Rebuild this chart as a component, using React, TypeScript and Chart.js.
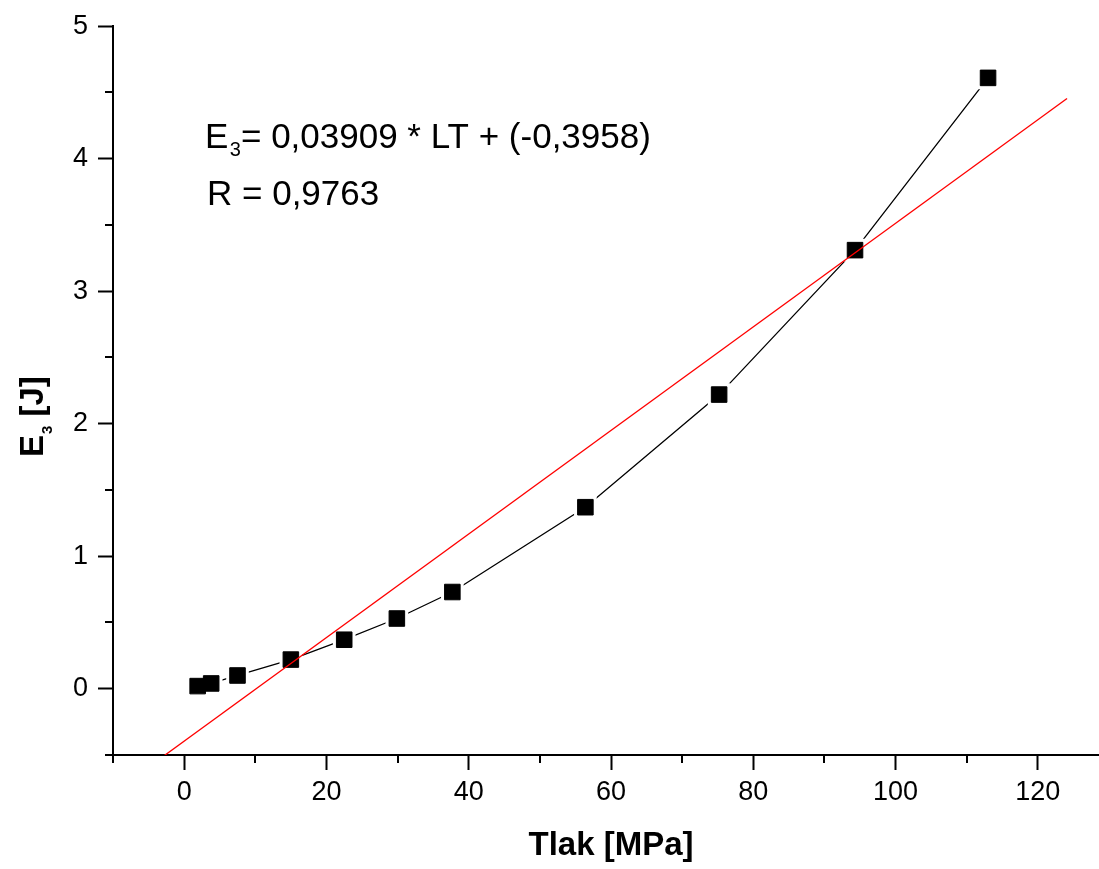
import React, { useEffect, useRef } from "react";
import { Chart, registerables } from "chart.js";

Chart.register(...registerables);

// ---- data ----
const pressure = [1.9, 3.8, 7.5, 15.0, 22.5, 29.9, 37.7, 56.4, 75.2, 94.3, 113.0];
const energy = [0.02, 0.04, 0.1, 0.22, 0.37, 0.53, 0.73, 1.37, 2.22, 3.31, 4.61];
const fitX = [-2.8, 124.1];
const fitY = [-0.505, 4.455];

const xMajorTicks = [0, 20, 40, 60, 80, 100, 120];
const xMinorTicks = [-10, 10, 30, 50, 70, 90, 110];
const yMajorTicks = [0, 1, 2, 3, 4, 5];
const yMinorTicks = [-0.5, 0.5, 1.5, 2.5, 3.5, 4.5];

const xTitle = "Tlak [MPa]";
const yTitleMain = "E";
const yTitleSub = "3";
const yTitleRest = " [J]";
const eqMain = "E";
const eqSub = "3";
const eqRest = "= 0,03909 * LT + (-0,3958)";
const rText = "R = 0,9763";

const FONT = "'Liberation Sans', Arial, sans-serif";

const decorPlugin = {
  id: "decor",
  afterDraw(chart: any) {
    const ctx = chart.ctx as CanvasRenderingContext2D;
    const xs = chart.scales.x;
    const ys = chart.scales.y;
    const { left, top, bottom } = chart.chartArea;
    ctx.save();
    // minor ticks
    ctx.strokeStyle = "#000";
    ctx.lineWidth = 2;
    ctx.beginPath();
    xMinorTicks.forEach((v) => {
      const px = Math.round(xs.getPixelForValue(v));
      ctx.moveTo(px, bottom);
      ctx.lineTo(px, bottom + 8);
    });
    yMinorTicks.forEach((v) => {
      const py = Math.round(ys.getPixelForValue(v));
      ctx.moveTo(left, py);
      ctx.lineTo(left - 8, py);
    });
    ctx.stroke();

    ctx.fillStyle = "#000";
    ctx.textAlign = "left";
    ctx.textBaseline = "alphabetic";

    // equation annotation
    const ax = left + 92;
    const ay = top + 122;
    ctx.font = `35px ${FONT}`;
    ctx.fillText(eqMain, ax, ay);
    const wE = ctx.measureText(eqMain).width;
    ctx.font = `20px ${FONT}`;
    ctx.fillText(eqSub, ax + wE + 1.5, ay + 8);
    const wS = ctx.measureText(eqSub).width;
    ctx.font = `35px ${FONT}`;
    ctx.fillText(eqRest, ax + wE + 1.5 + wS, ay);
    ctx.fillText(rText, ax + 2, ay + 57);

    // y axis title (rotated)
    ctx.translate(43, 457);
    ctx.rotate(-Math.PI / 2);
    ctx.font = `bold 33px ${FONT}`;
    ctx.fillText(yTitleMain, 0, 0);
    const wYE = ctx.measureText(yTitleMain).width;
    ctx.font = `bold 15px ${FONT}`;
    ctx.fillText(yTitleSub, wYE + 1, 9);
    const wYS = ctx.measureText(yTitleSub).width;
    ctx.font = `bold 33px ${FONT}`;
    ctx.fillText(yTitleRest, wYE + 1 + wYS, 0);
    ctx.restore();
  },
};

export default function App() {
  const canvasRef = useRef<HTMLCanvasElement | null>(null);

  useEffect(() => {
    if (!canvasRef.current) return;
    Chart.defaults.font.family = FONT;
    Chart.defaults.color = "#000";
    const lineData = pressure.map((x, i) => ({ x, y: energy[i] }));
    const fitData = fitX.map((x, i) => ({ x, y: fitY[i] }));
    const chart = new Chart(canvasRef.current, {
      type: "scatter",
      data: {
        datasets: [
          {
            label: "fit",
            data: fitData,
            showLine: true,
            borderColor: "#ff0000",
            borderWidth: 1.3,
            pointRadius: 0,
            order: 0,
          },
          {
            label: "E3",
            data: lineData,
            showLine: true,
            borderColor: "#000",
            borderWidth: 1.3,
            pointStyle: "rect",
            pointRadius: 16,
            pointBackgroundColor: "#fff",
            pointBorderWidth: 0,
            pointBorderColor: "#fff",
            order: 2,
          },
          {
            label: "markers",
            data: lineData,
            showLine: false,
            pointStyle: "rect",
            pointRadius: 11,
            pointBackgroundColor: "#000",
            pointBorderColor: "#000",
            pointBorderWidth: 1,
            order: 1,
          },
        ],
      },
      options: {
        animation: false,
        responsive: false,
        maintainAspectRatio: false,
        layout: { autoPadding: false, padding: { left: 0, top: 22, right: 7, bottom: 0 } },
        plugins: { legend: { display: false }, tooltip: { enabled: false } },
        scales: {
          x: {
            type: "linear",
            position: "bottom",
            min: -10,
            max: 130,
            afterBuildTicks: (s: any) => {
              s.ticks = xMajorTicks.map((v) => ({ value: v }));
            },
            afterFit: (s: any) => {
              s.height = 114;
            },
            border: { display: true, color: "#000", width: 2 },
            grid: {
              display: true,
              drawOnChartArea: false,
              drawTicks: true,
              tickLength: 15,
              tickWidth: 2,
              tickColor: "#000",
            },
            ticks: {
              color: "#000",
              font: { size: 27, family: FONT },
              padding: 6,
              maxRotation: 0,
              autoSkip: false,
            },
            title: {
              display: true,
              text: xTitle,
              color: "#000",
              font: { size: 33, weight: "bold", family: FONT },
              padding: { top: 0, bottom: 3 },
            },
          },
          y: {
            type: "linear",
            position: "left",
            min: -0.5,
            max: 5,
            afterBuildTicks: (s: any) => {
              s.ticks = yMajorTicks.map((v) => ({ value: v }));
            },
            afterFit: (s: any) => {
              s.width = 113;
            },
            border: { display: true, color: "#000", width: 2 },
            grid: {
              display: true,
              drawOnChartArea: false,
              drawTicks: true,
              tickLength: 15,
              tickWidth: 2,
              tickColor: "#000",
            },
            ticks: {
              color: "#000",
              font: { size: 27, family: FONT },
              padding: 10,
              autoSkip: false,
            },
          },
        },
      },
      plugins: [decorPlugin],
    } as any);
    return () => chart.destroy();
  }, []);

  return (
    <div
      style={{
        position: "absolute",
        left: 0,
        top: 0,
        width: 1099,
        height: 869,
        overflow: "hidden",
        background: "#fff",
      }}
    >
      <canvas ref={canvasRef} width={1116} height={869} style={{ width: 1116, height: 869, display: "block" }} />
    </div>
  );
}
